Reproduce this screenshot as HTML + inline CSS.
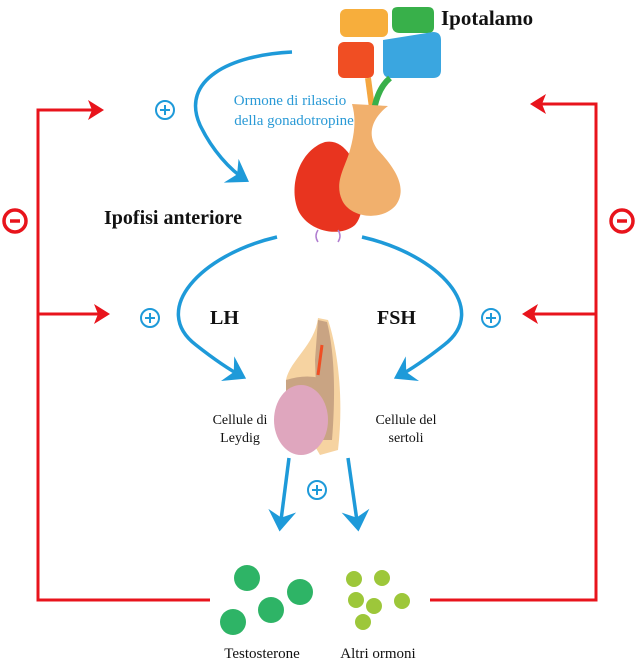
<!DOCTYPE html>
<html><head><meta charset="utf-8"><style>
body{margin:0;background:#fff}
svg{display:block}
.s{font-family:"Liberation Serif",serif;fill:#111}
.b{font-family:"Liberation Serif",serif;fill:#2a9ad6}
</style></head><body>
<svg width="640" height="666" viewBox="0 0 640 666" xmlns="http://www.w3.org/2000/svg">
<defs>
<marker id="ab" markerWidth="8" markerHeight="8" refX="5" refY="4" orient="auto" markerUnits="strokeWidth"><path d="M0,0 L6,4 L0,8 L2,4 Z" fill="#1e9ad9"/></marker>
</defs>
<g stroke="#e8141c" stroke-width="3" fill="none">
<path d="M210,600 H38 V110 H95"/>
<path d="M38,314 H100"/>
<path d="M430,600 H596 V104 H540"/>
<path d="M596,314 H532"/>
</g>
<g fill="#e8141c">
<path d="M104,110 L88,100 L92,110 L88,120 Z"/>
<path d="M110,314 L94,304 L98,314 L94,324 Z"/>
<path d="M530,104 L546,94 L542,104 L546,114 Z"/>
<path d="M522,314 L538,304 L534,314 L538,324 Z"/>
</g>
<g stroke="#e8141c" stroke-width="3.5" fill="none"><circle cx="15" cy="221" r="11"/><circle cx="622" cy="221" r="11"/></g>
<g stroke="#e8141c" stroke-width="3.5"><line x1="10" y1="221" x2="20" y2="221"/><line x1="617" y1="221" x2="627" y2="221"/></g>
<g stroke="#1e9ad9" stroke-width="3.5" fill="none" marker-end="url(#ab)">
<path d="M292,52 C230,55 180,80 200,125 C212,150 230,170 246,180"/>
<path d="M277,237 C200,255 150,310 196,345 C215,360 230,370 243,377"/>
<path d="M362,237 C440,255 490,310 444,345 C425,360 410,370 397,377"/>
<path d="M289,458 L280,528"/>
<path d="M348,458 L358,528"/>
</g>
<g stroke="#1e9ad9" stroke-width="2" fill="none">
<circle cx="165" cy="110" r="9"/><circle cx="150" cy="318" r="9"/><circle cx="491" cy="318" r="9"/><circle cx="317" cy="490" r="9"/>
<path d="M160,110 h10 M165,105 v10 M145,318 h10 M150,313 v10 M486,318 h10 M491,313 v10 M312,490 h10 M317,485 v10"/>
</g>
<rect x="340" y="9" width="48" height="28" rx="6" fill="#f7ae3c"/>
<path d="M392,12 q0,-5 6,-5 h30 q6,0 6,6 v14 q0,6 -6,6 h-28 q-8,0 -8,-8 Z" fill="#38b04a"/>
<rect x="338" y="42" width="36" height="36" rx="6" fill="#f04e23"/>
<path d="M383,40 l50,-8 q8,0 8,8 v30 q0,8 -8,8 h-42 q-8,0 -8,-8 Z" fill="#3aa6e0"/>
<path d="M368,78 l4,30" stroke="#f4a640" stroke-width="6"/>
<path d="M390,78 q-12,10 -16,32" stroke="#38b04a" stroke-width="6" fill="none"/>
<!-- pituitary -->
<path d="M325,142 C300,150 288,185 298,210 C308,232 340,238 355,225 C368,210 362,175 350,155 C343,145 335,140 325,142 Z" fill="#e8341f"/>
<path d="M352,104 L388,106 C372,118 366,135 378,150 C395,168 408,188 396,205 C382,222 350,218 342,200 C334,182 345,168 350,150 C355,132 356,118 352,104 Z" fill="#f1b06d"/>
<path d="M318,230 q-4,6 0,12 M338,230 q4,6 0,12" stroke="#b07ed0" stroke-width="1.5" fill="none"/>
<!-- testis -->
<path d="M318,318 l10,2 C335,340 345,390 338,450 L320,455 C300,420 285,400 286,380 C290,360 315,345 318,318 Z" fill="#f6d3a1"/>
<path d="M318,320 l9,2 C334,350 336,390 332,440 L318,440 L315,360 Z" fill="#c9a483"/>
<path d="M286,380 q25,-8 45,2 l-5,12 q-20,-5 -40,0 Z" fill="#c9a483"/>
<path d="M322,345 l-4,30" stroke="#f04e23" stroke-width="3"/>
<ellipse cx="301" cy="420" rx="27" ry="35" fill="#dfa6be"/>
<g fill="#2eb466"><circle cx="247" cy="578" r="13"/><circle cx="271" cy="610" r="13"/><circle cx="300" cy="592" r="13"/><circle cx="233" cy="622" r="13"/></g>
<g fill="#9dc73a"><circle cx="354" cy="579" r="8"/><circle cx="382" cy="578" r="8"/><circle cx="356" cy="600" r="8"/><circle cx="374" cy="606" r="8"/><circle cx="402" cy="601" r="8"/><circle cx="363" cy="622" r="8"/></g>
<text class="s" x="441" y="25" font-size="21" font-weight="bold">Ipotalamo</text>
<text class="b" x="290" y="105" font-size="15" text-anchor="middle">Ormone di rilascio</text>
<text class="b" x="294" y="125" font-size="15" text-anchor="middle">della gonadotropine</text>
<text class="s" x="104" y="224" font-size="20" font-weight="bold">Ipofisi anteriore</text>
<text class="s" x="210" y="324" font-size="20" font-weight="bold">LH</text>
<text class="s" x="377" y="324" font-size="20" font-weight="bold">FSH</text>
<text class="s" x="240" y="424" font-size="14" text-anchor="middle">Cellule di</text>
<text class="s" x="240" y="442" font-size="14" text-anchor="middle">Leydig</text>
<text class="s" x="406" y="424" font-size="14" text-anchor="middle">Cellule del</text>
<text class="s" x="406" y="442" font-size="14" text-anchor="middle">sertoli</text>
<text class="s" x="262" y="658" font-size="15" text-anchor="middle">Testosterone</text>
<text class="s" x="378" y="658" font-size="15" text-anchor="middle">Altri ormoni</text>
</svg>
</body></html>
